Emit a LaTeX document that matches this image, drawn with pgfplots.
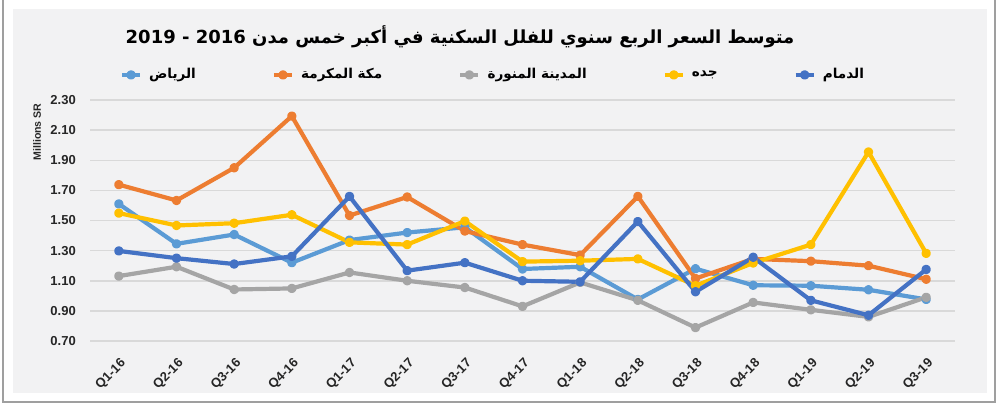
\documentclass[border=0pt]{standalone}
\usepackage{pgfplots}
\pgfplotsset{compat=1.18}
\usepackage{fontspec}
\setmainfont{Liberation Sans}
\newfontfamily\arabicfont[Script=Arabic]{DejaVu Sans}
\TeXXeTstate=1

\definecolor{riyadh}{HTML}{5B9BD5}
\definecolor{makkah}{HTML}{ED7D31}
\definecolor{madinah}{HTML}{A5A5A5}
\definecolor{jeddah}{HTML}{FFC000}
\definecolor{dammam}{HTML}{4472C4}
\definecolor{panel}{HTML}{F2F2F3}
\definecolor{gridc}{HTML}{D9D9D9}

\newcommand{\ar}[1]{{\arabicfont\bfseries\beginR #1\endR}}

\begin{document}
\begin{tikzpicture}
% 1 px of the reference = 0.5pt
\useasboundingbox (0,0) rectangle (500pt,203.5pt);
\fill[white] (0,0) rectangle (500pt,203.5pt);
\draw[gray!75, line width=1pt] (1.5pt,203.5pt) -- (1.5pt,2.5pt) -- (497.5pt,2.5pt) -- (497.5pt,203.5pt);
\fill[panel] (6pt,7pt) rectangle (493.5pt,199pt);
\draw[white, line width=0.5pt] (6pt,7pt) rectangle (493.5pt,199pt);

\node[font=\fontsize{9}{11}\selectfont] at (230pt,185pt)
  {\ar{متوسط السعر الربع سنوي للفلل السكنية في أكبر خمس مدن \beginL2016\endL{} - \beginL2019\endL}};

\begin{axis}[
    at={(45pt,33pt)}, anchor=south west,
    scale only axis,
    width=432.5pt, height=120.5pt,
    xmin=-0.5, xmax=14.5,
    ymin=0.7, ymax=2.3,
    xtick={0,...,14},
    xticklabels={Q1-16,Q2-16,Q3-16,Q4-16,Q1-17,Q2-17,Q3-17,Q4-17,Q1-18,Q2-18,Q3-18,Q4-18,Q1-19,Q2-19,Q3-19},
    ytick={0.7,0.9,1.1,1.3,1.5,1.7,1.9,2.1,2.3},
    /pgf/number format/fixed,
    /pgf/number format/fixed zerofill,
    /pgf/number format/precision=2,
    /pgf/number format/assume math mode=true,
    major tick length=0pt,
    axis line style={draw=none},
    ymajorgrids=true,
    grid style={gridc, line width=0.75pt},
    tick label style={font=\fontsize{6.5}{8}\selectfont\bfseries, text=black!85},
    yticklabel style={xshift=-3.6pt},
    xticklabel style={rotate=45, anchor=east, xshift=-2pt, yshift=-9pt},
    ylabel={Millions SR},
    every axis y label/.style={at={(rel axis cs:0,0.867)}, rotate=90, anchor=center,
      yshift=26.5pt, font=\fontsize{5.3}{6}\selectfont\bfseries, text=black!85},
    legend columns=5,
    legend style={at={(0.467,1.104)}, anchor=center, draw=none, fill=none,
      font=\fontsize{6.8}{8}\selectfont, inner sep=0pt,
      /tikz/every even column/.append style={column sep=36pt},
      /tikz/every odd column/.append style={column sep=1.5pt}},
    legend cell align=left,
    legend image code/.code={\draw[mark repeat=2,mark phase=2] plot coordinates {(0pt,0pt)(4.5pt,0pt)(9pt,0pt)};},
    every axis plot/.append style={line width=2.1pt, mark=*, mark size=1.3pt, line join=round},
]
\addplot[riyadh, mark options={fill=riyadh}] coordinates {
 (0,1.61)(1,1.345)(2,1.407)(3,1.22)(4,1.37)(5,1.42)(6,1.455)(7,1.178)(8,1.193)(9,0.976)(10,1.18)(11,1.07)(12,1.067)(13,1.04)(14,0.976)};
\addlegendentry{\ar{الرياض}}
\addplot[makkah, mark options={fill=makkah}] coordinates {
 (0,1.738)(1,1.633)(2,1.85)(3,2.193)(4,1.533)(5,1.656)(6,1.43)(7,1.34)(8,1.27)(9,1.66)(10,1.115)(11,1.245)(12,1.23)(13,1.20)(14,1.11)};
\addlegendentry{\ar{مكة المكرمة}}
\addplot[madinah, mark options={fill=madinah}] coordinates {
 (0,1.131)(1,1.193)(2,1.042)(3,1.049)(4,1.155)(5,1.10)(6,1.055)(7,0.93)(8,1.089)(9,0.97)(10,0.789)(11,0.956)(12,0.907)(13,0.86)(14,0.99)};
\addlegendentry{\ar{المدينة المنورة}}
\addplot[jeddah, mark options={fill=jeddah}] coordinates {
 (0,1.549)(1,1.467)(2,1.482)(3,1.538)(4,1.355)(5,1.34)(6,1.496)(7,1.227)(8,1.233)(9,1.245)(10,1.067)(11,1.218)(12,1.34)(13,1.955)(14,1.282)};
\addlegendentry{\ar{جده}}
\addplot[dammam, mark options={fill=dammam}] coordinates {
 (0,1.298)(1,1.25)(2,1.211)(3,1.262)(4,1.66)(5,1.167)(6,1.22)(7,1.10)(8,1.093)(9,1.493)(10,1.027)(11,1.256)(12,0.97)(13,0.871)(14,1.175)};
\addlegendentry{\ar{الدمام}}
\end{axis}
\end{tikzpicture}
\end{document}
